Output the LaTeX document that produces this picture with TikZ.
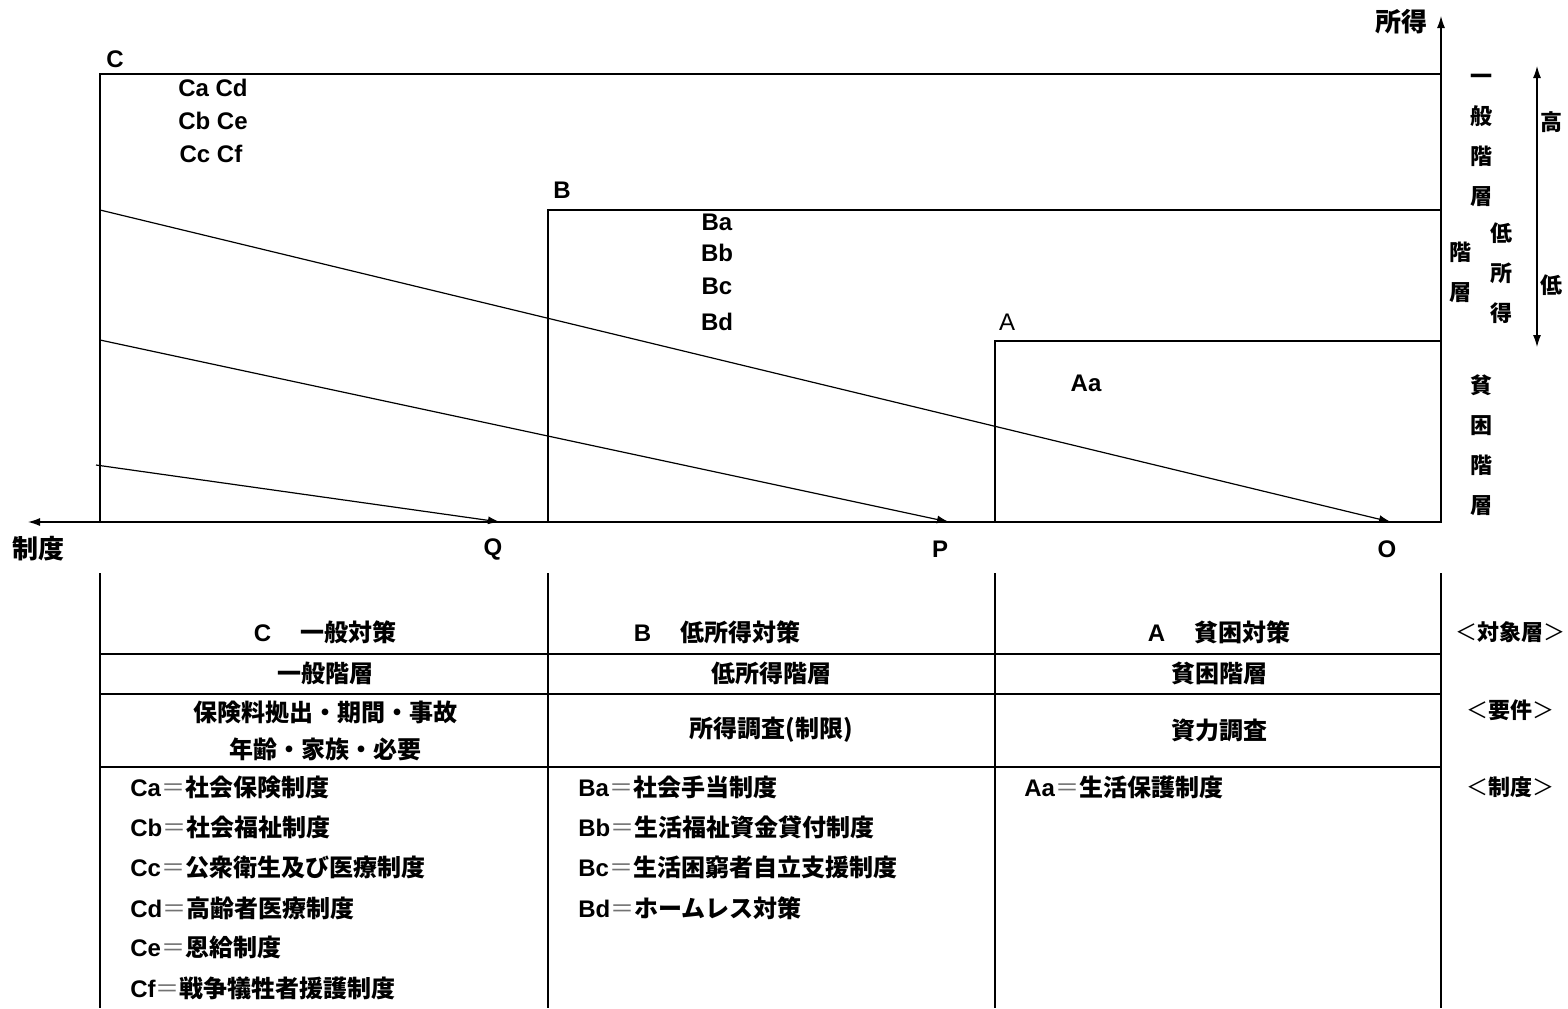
\documentclass[tikz,border=0pt]{standalone}
\usepackage{fontspec}
\setmainfont{Liberation Sans}
\newfontfamily\jp{Noto Sans CJK JP}
\usetikzlibrary{arrows.meta}
\begin{document}
\begin{tikzpicture}[x=0.5pt,y=-0.5pt,
  frame/.style={line width=0.8pt},
  thin line/.style={line width=0.6pt},
  diag/.style={line width=0.6pt,-{Latex[length=6pt,width=4pt]}},
  lbl/.style={font=\bfseries\fontsize{12}{14}\selectfont,inner sep=0pt},
  tl/.style={font=\bfseries\fontsize{12}{14}\selectfont,inner sep=0pt},
  jl/.style={font=\jp\bfseries\fontsize{12}{14}\selectfont,inner sep=0pt},
  vt/.style={font=\jp\bfseries\fontsize{11}{20}\selectfont,align=center,inner sep=0pt},
  rl/.style={font=\jp\bfseries\fontsize{11}{14}\selectfont,inner sep=0pt},
  eq/.style={text=black!55}]
\useasboundingbox (0,0) rectangle (1568,1008);
% key points
\coordinate (ctl) at (100,74);
\coordinate (ctr) at (1441,74);
\coordinate (obl) at (100,522);
\coordinate (orig) at (1441,522);
\coordinate (btop) at (548,210);
\coordinate (bbot) at (548,522);
\coordinate (bright) at (1441,210);
\coordinate (atop) at (995,341);
\coordinate (abot) at (995,522);
\coordinate (aright) at (1441,341);
\coordinate (ytip) at (1441,16);
\coordinate (xtip) at (28,522);
\coordinate (d1s) at (100,210);
\coordinate (d1e) at (1391,522);
\coordinate (d2s) at (100,340);
\coordinate (d2e) at (949,522);
\coordinate (d3s) at (96,465);
\coordinate (d3e) at (500,522);
\coordinate (hi) at (1537,66);
\coordinate (lo) at (1537,347);
% chart frame
\draw[frame] (obl) -- (ctl) -- (ctr) -- (orig) -- cycle;
\draw[frame] (bbot) -- (btop) -- (bright);
\draw[frame] (abot) -- (atop) -- (aright);
\draw[thin line,-{Latex[length=6pt,width=4pt]}] (ctr) -- (ytip);
\draw[thin line,-{Latex[length=6pt,width=4pt]}] (obl) -- (xtip);
\draw[diag] (d1s) -- (d1e);
\draw[diag] (d2s) -- (d2e);
\draw[diag] (d3s) -- (d3e);
\draw[thin line,{Latex[length=6pt,width=4pt]}-{Latex[length=6pt,width=4pt]}] (hi) -- (lo);
% chart labels
\node[jl,font=\jp\bfseries\fontsize{13}{14}\selectfont] (shotoku) at (1401,22) {所得};
\node[jl,font=\jp\bfseries\fontsize{13}{14}\selectfont] (seido) at (38,549) {制度};
\node[lbl] (lC) at (115,59) {C};
\node[lbl] (lCa) at (213,88) {Ca Cd};
\node[lbl] (lCb) at (213,121) {Cb Ce};
\node[lbl] (lCc) at (211,154) {Cc Cf};
\node[lbl] (lB) at (562,190) {B};
\node[lbl] (lBa) at (717,222) {Ba};
\node[lbl] (lBb) at (717,253) {Bb};
\node[lbl] (lBc) at (717,286) {Bc};
\node[lbl] (lBd) at (717,322) {Bd};
\node[lbl,font=\fontsize{12}{14}\selectfont] (lA) at (1007,322) {A};
\node[lbl] (lAa) at (1086,383) {Aa};
\node[lbl] (lQ) at (493,549) {Q};
\node[lbl] (lP) at (940,549) {P};
\node[lbl] (lO) at (1387,549) {O};
\node[vt] (ippan) at (1481,140) {一\\般\\階\\層};
\node[vt] (teishotoku) at (1501,273) {低\\所\\得};
\node[vt] (kaiso) at (1460,272) {階\\層};
\node[vt] (hinkon) at (1481,445) {貧\\困\\階\\層};
\node[rl] (takai) at (1551,122) {高};
\node[rl] (hikui) at (1551,285) {低};
% table
\coordinate (t0t) at (100,573); \coordinate (t0b) at (100,1008);
\coordinate (t1t) at (548,573); \coordinate (t1b) at (548,1008);
\coordinate (t2t) at (995,573); \coordinate (t2b) at (995,1008);
\coordinate (t3t) at (1441,573); \coordinate (t3b) at (1441,1008);
\coordinate (h1l) at (100,654); \coordinate (h1r) at (1441,654);
\coordinate (h2l) at (100,694); \coordinate (h2r) at (1441,694);
\coordinate (h3l) at (100,767); \coordinate (h3r) at (1441,767);
\draw[frame] (t0t) -- (t0b) (t1t) -- (t1b) (t2t) -- (t2b) (t3t) -- (t3b);
\draw[frame] (h1l) -- (h1r) (h2l) -- (h2r) (h3l) -- (h3r);
\node[jl] (hC) at (325,632) {{\rmfamily\bfseries C}\hspace{1.2em}一般対策};
\node[jl] (hB) at (717,632) {{\rmfamily\bfseries B}\hspace{1.2em}低所得対策};
\node[jl] (hA) at (1219,632) {{\rmfamily\bfseries A}\hspace{1.2em}貧困対策};
\node[jl] (sC) at (325,673) {一般階層};
\node[jl] (sB) at (771,673) {低所得階層};
\node[jl] (sA) at (1219,673) {貧困階層};
\node[jl] (rC1) at (325,712) {保険料拠出・期間・事故};
\node[jl] (rC2) at (325,749) {年齢・家族・必要};
\node[jl] (rB) at (771,730) {所得調査(制限)};
\node[jl] (rA) at (1219,730) {資力調査};
\node[rl] (k1) at (1510,632) {{\mdseries ＜}対象層{\mdseries ＞}};
\node[rl] (k2) at (1510,710) {{\mdseries ＜}要件{\mdseries ＞}};
\node[rl] (k3) at (1510,787) {{\mdseries ＜}制度{\mdseries ＞}};
\node[tl,anchor=west] (iCa) at (130,787) {Ca{\jp\mdseries\color{black!55}＝}{\jp 社会保険制度}};
\node[tl,anchor=west] (iCb) at (130,827) {Cb{\jp\mdseries\color{black!55}＝}{\jp 社会福祉制度}};
\node[tl,anchor=west] (iCc) at (130,867) {Cc{\jp\mdseries\color{black!55}＝}{\jp 公衆衛生及び医療制度}};
\node[tl,anchor=west] (iCd) at (130,908) {Cd{\jp\mdseries\color{black!55}＝}{\jp 高齢者医療制度}};
\node[tl,anchor=west] (iCe) at (130,947) {Ce{\jp\mdseries\color{black!55}＝}{\jp 恩給制度}};
\node[tl,anchor=west] (iCf) at (130,988) {Cf{\jp\mdseries\color{black!55}＝}{\jp 戦争犠牲者援護制度}};
\node[tl,anchor=west] (iBa) at (578,787) {Ba{\jp\mdseries\color{black!55}＝}{\jp 社会手当制度}};
\node[tl,anchor=west] (iBb) at (578,827) {Bb{\jp\mdseries\color{black!55}＝}{\jp 生活福祉資金貸付制度}};
\node[tl,anchor=west] (iBc) at (578,867) {Bc{\jp\mdseries\color{black!55}＝}{\jp 生活困窮者自立支援制度}};
\node[tl,anchor=west] (iBd) at (578,908) {Bd{\jp\mdseries\color{black!55}＝}{\jp ホームレス対策}};
\node[tl,anchor=west] (iAa) at (1024,787) {Aa{\jp\mdseries\color{black!55}＝}{\jp 生活保護制度}};
\end{tikzpicture}
\end{document}
